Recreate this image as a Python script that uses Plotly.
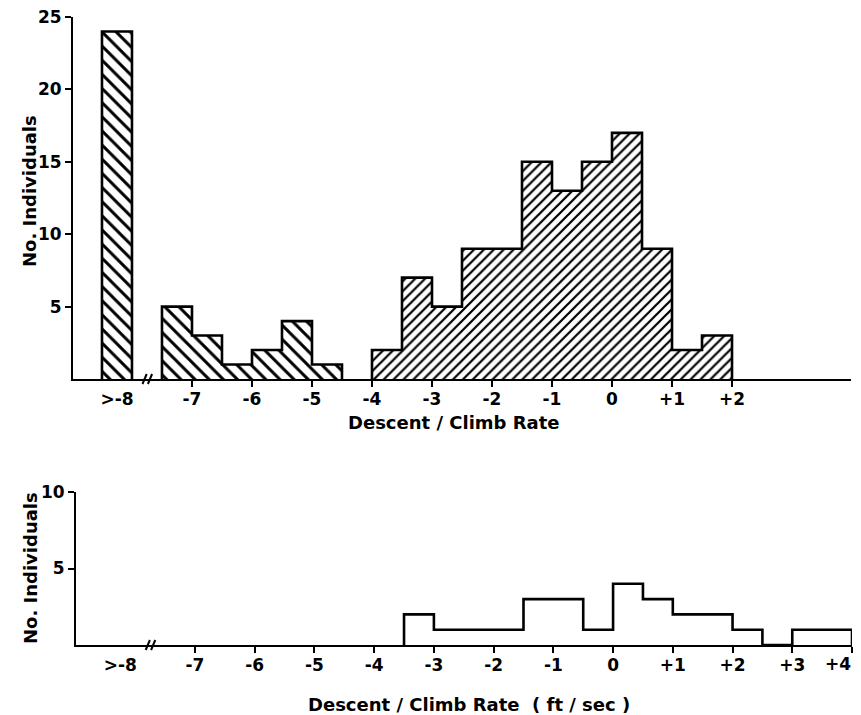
import plotly.graph_objects as go

# ---------------- data ----------------
BIN_W = 0.5
# top panel (all individuals)
over8_label = ">-8"
over8_edge = [-8.5]
over8_count = [24]
desc_edges = [-7.5, -7.0, -6.5, -6.0, -5.5, -5.0]
desc_counts = [5, 3, 1, 2, 4, 1]
main_edges = [-4.0, -3.5, -3.0, -2.5, -2.0, -1.5, -1.0, -0.5, 0.0, 0.5, 1.0, 1.5]
main_counts = [2, 7, 5, 9, 9, 15, 13, 15, 17, 9, 2, 3]
# bottom panel
bot_edges = [-3.5, -3.0, -2.5, -2.0, -1.5, -1.0, -0.5, 0.0, 0.5, 1.0, 1.5, 2.0, 2.5, 3.0, 3.5]
bot_counts = [2, 1, 1, 1, 3, 3, 1, 4, 3, 2, 2, 1, 0, 1, 1]

top_tickvals = [-7, -6, -5, -4, -3, -2, -1, 0, 1, 2]
top_ticktext = ["-7", "-6", "-5", "-4", "-3", "-2", "-1", "0", "+1", "+2"]
bot_tickvals = [-7, -6, -5, -4, -3, -2, -1, 0, 1, 2, 3, 4]
bot_ticktext = ["-7", "-6", "-5", "-4", "-3", "-2", "-1", "0", "+1", "+2", "+3", "+4"]
over8_pos = -8.25
top_yticks = [5, 10, 15, 20, 25]
bot_yticks = [5, 10]

x_title_top = "Descent / Climb Rate"
x_title_bot = "Descent / Climb Rate  ( ft / sec )"
y_title = "No. Individuals"

# ---------------- layout helpers ----------------
OFF = 8  # default page body margin
W, H = 861 - OFF, 715 - OFF
FONT = dict(family="DejaVu Sans", size=17, color="black", weight="bold")


def px_x(p):
    return (p - OFF) / W


def px_y(p):
    return 1 - (p - OFF) / H


def centers(edges):
    return [e + BIN_W / 2 for e in edges]


def outline(edges, counts):
    xs = [edges[0]]
    ys = [0]
    for e, c in zip(edges, counts):
        xs.append(e)
        ys.append(c)
    xs.append(edges[-1] + BIN_W)
    ys.append(0)
    return xs, ys


fig = go.Figure()


def hatched(edges, counts, shape, size, sol, xa, ya):
    fig.add_trace(go.Bar(
        x=centers(edges), y=counts, width=BIN_W, xaxis=xa, yaxis=ya,
        marker=dict(color="white", line=dict(width=0),
                    pattern=dict(shape=shape, fgcolor="black", bgcolor="white",
                                 size=size, solidity=sol, fgopacity=1)),
        showlegend=False, hoverinfo="skip"))
    xs, ys = outline(edges, counts)
    fig.add_trace(go.Scatter(x=xs, y=ys, mode="lines", line_shape="hv",
                             line=dict(color="black", width=2.6),
                             xaxis=xa, yaxis=ya, showlegend=False, hoverinfo="skip"))


hatched(over8_edge, over8_count, "\\", 10, 0.3, "x", "y")
hatched(desc_edges, desc_counts, "\\", 10, 0.3, "x", "y")
hatched(main_edges, main_counts, "/", 7, 0.32, "x", "y")

bx, by = outline(bot_edges, bot_counts)
fig.add_trace(go.Scatter(x=bx, y=by, mode="lines", line_shape="hv",
                         line=dict(color="black", width=2.6),
                         xaxis="x2", yaxis="y2", showlegend=False, hoverinfo="skip"))

axis_common = dict(showgrid=False, zeroline=False, showline=True, linecolor="black",
                   linewidth=2, tickfont=FONT, tickcolor="black", automargin=False,
                   ticklabeloverflow="allow")

# the last bottom label sits at the page edge; it is drawn right-aligned below
bot_labels_axis = [over8_label] + bot_ticktext[:-1] + [""]

fig.update_layout(
    width=W, height=H, margin=dict(l=0, r=0, t=0, b=0),
    paper_bgcolor="white", plot_bgcolor="white", bargap=0,
    xaxis=dict(domain=[px_x(73), px_x(851)], range=[-8.983, 3.983], anchor="y",
               tickmode="array", tickvals=[over8_pos] + top_tickvals,
               ticktext=[over8_label] + top_ticktext, ticks="", ticklabelstandoff=4,
               minor=dict(tickmode="array", tickvals=top_tickvals, ticks="outside",
                          ticklen=6, tickwidth=2, tickcolor="black", showgrid=False),
               **axis_common),
    yaxis=dict(domain=[px_y(379), px_y(17)], range=[0, 25], anchor="x",
               tickmode="array", tickvals=top_yticks, ticks="outside", ticklen=6,
               tickwidth=2, **axis_common),
    xaxis2=dict(domain=[px_x(76), px_x(852)], range=[-8.992, 4.0], anchor="y2",
                tickmode="array", tickvals=[over8_pos] + bot_tickvals,
                ticktext=bot_labels_axis, ticks="", ticklabelstandoff=4,
                minor=dict(tickmode="array", tickvals=bot_tickvals, ticks="outside",
                           ticklen=6, tickwidth=2, tickcolor="black", showgrid=False),
                **axis_common),
    yaxis2=dict(domain=[px_y(645), px_y(492)], range=[0, 10], anchor="x2",
                tickmode="array", tickvals=bot_yticks, ticks="outside", ticklen=6,
                tickwidth=2, **axis_common),
)

fig.add_annotation(text=bot_ticktext[-1], x=px_x(853), y=px_y(664), xref="paper",
                   yref="paper", xanchor="right", yanchor="middle", showarrow=False,
                   font=FONT)

# axis titles
TFONT = dict(family="DejaVu Sans", size=18, color="black", weight="bold")
for txt, xp, yp, ang in ((y_title, 30, 191, -90), (y_title, 30, 568, -90),
                         (x_title_top, 454, 422, 0), (x_title_bot, 469, 704, 0)):
    fig.add_annotation(text=txt, x=px_x(xp), y=px_y(yp), xref="paper", yref="paper",
                       xanchor="center", yanchor="middle", textangle=ang,
                       showarrow=False, font=TFONT)

# axis break marks "//"
for xa, base in (("x", 379), ("x2", 645)):
    for xc in (-7.79, -7.70):
        fig.add_shape(type="line", xref=xa, yref="paper",
                      x0=xc - 0.035, x1=xc + 0.035, y0=px_y(base + 5), y1=px_y(base - 5),
                      line=dict(color="black", width=2))

fig.write_html("out.html")
